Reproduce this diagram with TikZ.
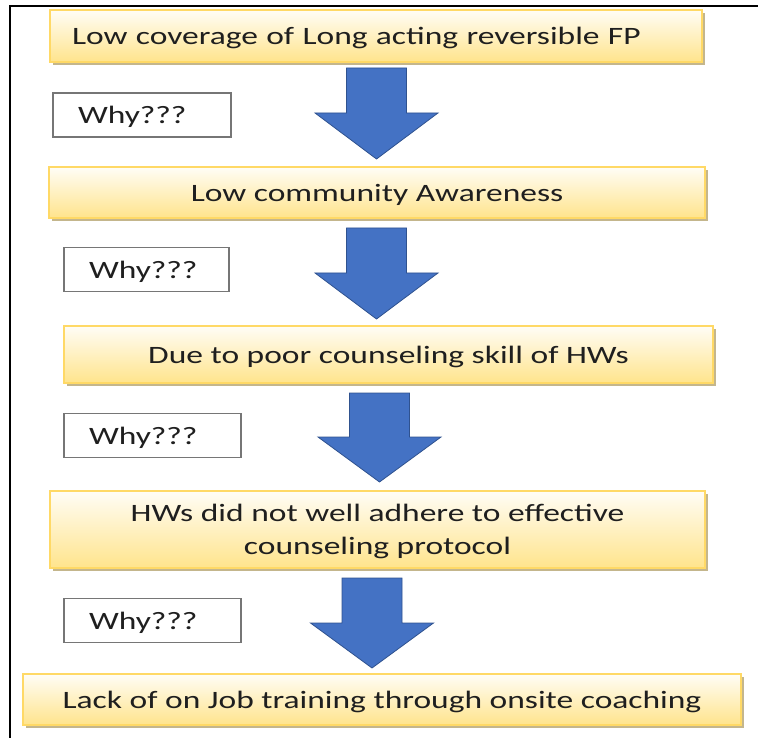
\documentclass[tikz,border=0pt]{standalone}
\usepackage{fontspec}
\setmainfont{Carlito}[FakeStretch=1.34]
\usetikzlibrary{shadows}

\definecolor{boxgold}{RGB}{255,217,102}
\definecolor{boxtop}{RGB}{255,253,246}
\definecolor{boxbottom}{RGB}{255,228,140}
\definecolor{boxshadow}{RGB}{196,182,140}
\definecolor{arrowblue}{RGB}{68,114,196}
\definecolor{arrowedge}{RGB}{47,82,143}
\definecolor{whyedge}{RGB}{118,118,118}

\tikzset{
  causebox/.style={draw=boxgold, line width=1.5pt, top color=boxtop, bottom color=boxbottom,
    drop shadow={shadow xshift=3pt, shadow yshift=-3pt, fill=boxshadow, opacity=1},
    font=\fontsize{25}{33}\selectfont, text=black!88, inner sep=0pt, align=center,
    text depth=0pt},
  whybox/.style={draw=whyedge, line width=1.5pt, fill=white, minimum height=44pt,
    inner xsep=25pt, inner ysep=0pt, align=left, text depth=0pt,
    font=\fontsize{25}{33}\selectfont, text=black!88},
  blockarrow/.style={fill=arrowblue, draw=arrowedge, line width=0.8pt, line join=miter},
  frameline/.style={line width=1.7pt}
}

\begin{document}
\begin{tikzpicture}[x=1pt, y=-1pt]
    \useasboundingbox (0,0) rectangle (758,738);

    \draw[frameline] (758,6) -- (10,6) -- (10,738);

    \coordinate (a1) at (376.5,68);
    \coordinate (a2) at (376.5,228);
    \coordinate (a3) at (379.5,393);
    \coordinate (a4) at (372,578);

    \node[causebox, align=left, text width=608pt, inner xsep=22pt, minimum height=52pt] (b1) at (376,36)
      {Low coverage of Long acting reversible FP};
    \node[causebox, minimum width=656pt, minimum height=51pt] (b2) at (377,192.5)
      {Low community Awareness};
    \node[causebox, minimum width=649pt, minimum height=57pt] (b3) at (388.5,354.5)
      {Due to poor counseling skill of HWs};
    \node[causebox, minimum width=655pt, minimum height=77pt] (b4) at (377.5,529.5)
      {HWs did not well adhere to effective\\counseling protocol};
    \node[causebox, minimum width=718pt, minimum height=51pt] (b5) at (382,699.5)
      {Lack of on Job training through onsite coaching};

    \node[whybox, text width=128pt] (w1) at (142,115) {Why???};
    \node[whybox, text width=115pt] (w2) at (146.5,269.5) {Why???};
    \node[whybox, text width=127pt] (w3) at (152.5,435.5) {Why???};
    \node[whybox, text width=127pt] (w4) at (152.5,620.5) {Why???};

    \draw[blockarrow] (a1) ++(-30,0) -- ++(60,0) -- ++(0,45) -- ++(31.5,0) -- ++(-61.5,46)
      -- ++(-61.5,-46) -- ++(31.5,0) -- cycle;
    \draw[blockarrow] (a2) ++(-30,0) -- ++(60,0) -- ++(0,45) -- ++(31.5,0) -- ++(-61.5,46)
      -- ++(-61.5,-46) -- ++(31.5,0) -- cycle;
    \draw[blockarrow] (a3) ++(-30,0) -- ++(60,0) -- ++(0,44) -- ++(31.5,0) -- ++(-61.5,45)
      -- ++(-61.5,-45) -- ++(31.5,0) -- cycle;
    \draw[blockarrow] (a4) ++(-30,0) -- ++(60,0) -- ++(0,45) -- ++(31.5,0) -- ++(-61.5,45)
      -- ++(-61.5,-45) -- ++(31.5,0) -- cycle;
  \end{tikzpicture}
\end{document}
